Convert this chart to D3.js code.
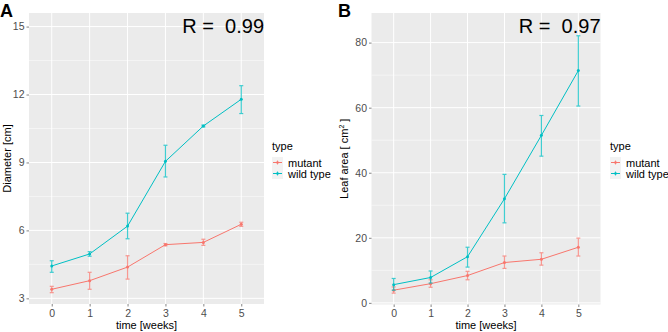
<!DOCTYPE html>
<html>
<head>
<meta charset="utf-8">
<script src="https://cdn.jsdelivr.net/npm/d3@7"></script>
<style>
  body { margin: 0; background: #fff; }
  text { font-family: "Liberation Sans", Arial, sans-serif; }
</style>
</head>
<body>
<script>
// data
var weeks = [0, 1, 2, 3, 4, 5];

var diamMutant   = [3.40, 3.78, 4.38, 5.37, 5.47, 6.27];
var diamMutantLo = [3.25, 3.40, 3.85, 5.32, 5.34, 6.18];
var diamMutantHi = [3.53, 4.15, 4.88, 5.42, 5.61, 6.36];
var diamWild     = [4.43, 4.96, 6.19, 9.05, 10.61, 11.79];
var diamWildLo   = [4.15, 4.86, 5.63, 8.36, 10.57, 11.16];
var diamWildHi   = [4.66, 5.06, 6.76, 9.76, 10.65, 12.39];

var leafMutant   = [3.9, 5.9, 8.4, 12.4, 13.4, 17.1];
var leafMutantLo = [3.0, 4.8, 7.1, 10.6, 11.6, 14.4];
var leafMutantHi = [4.9, 7.1, 9.7, 14.4, 15.4, 19.9];
var leafWild     = [5.6, 7.8, 14.2, 32.0, 51.5, 71.4];
var leafWildLo   = [3.9, 6.1, 11.0, 24.6, 45.1, 60.5];
var leafWildHi   = [7.5, 9.8, 17.1, 39.5, 57.6, 82.1];

var diamTicks = [3, 6, 9, 12, 15];
var leafTicks = [0, 20, 40, 60, 80];
var types = ["mutant", "wild type"];
var colors = ["#F8766D", "#00BFC4"];

var width = 668, height = 332;

var svg = d3.select("body").append("svg")
    .attr("width", width)
    .attr("height", height);

function drawPanel(p) {
    var g = svg.append("g");

    var x = d3.scalePoint()
        .domain(weeks)
        .range([p.left, p.right])
        .padding(0.6);

    var y = d3.scaleLinear()
        .domain(p.yDomain)
        .range([p.bottom, p.top]);

    // grey panel
    g.append("rect")
        .attr("x", p.left).attr("y", p.top)
        .attr("width", p.right - p.left)
        .attr("height", p.bottom - p.top)
        .attr("fill", "#EBEBEB");

    // minor grid
    var minor = [];
    for (var i = 0; i < p.ticks.length - 1; i++) minor.push((p.ticks[i] + p.ticks[i + 1]) / 2);
    g.selectAll(".minor").data(minor).enter().append("line")
        .attr("x1", p.left).attr("x2", p.right)
        .attr("y1", function(d) { return y(d); })
        .attr("y2", function(d) { return y(d); })
        .attr("stroke", "#fff").attr("stroke-width", 0.5);

    // major grid
    g.selectAll(".hmaj").data(p.ticks).enter().append("line")
        .attr("x1", p.left).attr("x2", p.right)
        .attr("y1", function(d) { return y(d); })
        .attr("y2", function(d) { return y(d); })
        .attr("stroke", "#fff").attr("stroke-width", 1);
    g.selectAll(".vmaj").data(weeks).enter().append("line")
        .attr("y1", p.top).attr("y2", p.bottom)
        .attr("x1", function(d) { return x(d); })
        .attr("x2", function(d) { return x(d); })
        .attr("stroke", "#fff").attr("stroke-width", 1);

    // axes
    var yAxis = d3.axisLeft(y).tickValues(p.ticks).tickSize(2.5).tickPadding(2);
    var ya = g.append("g").attr("transform", "translate(" + p.left + ",0)").call(yAxis);
    var xAxis = d3.axisBottom(x).tickSize(2.5).tickPadding(3);
    var xa = g.append("g").attr("transform", "translate(0," + p.bottom + ")").call(xAxis);
    [ya, xa].forEach(function(a) {
        a.select(".domain").remove();
        a.selectAll(".tick line").attr("stroke", "#333").attr("stroke-width", 0.6);
        a.selectAll(".tick text").attr("fill", "#4D4D4D")
            .style("font-size", "10.5px")
            .style("font-family", "'Liberation Sans', Arial, sans-serif");
    });

    // series
    p.series.forEach(function(s, si) {
        var pts = weeks.map(function(w, i) {
            return { w: w, v: s.v[i], lo: s.lo[i], hi: s.hi[i] };
        });
        var col = colors[si];
        var eb = g.append("g").attr("stroke", col).attr("stroke-width", 1.2).attr("opacity", 0.75);
        eb.selectAll(".bar").data(pts).enter().append("line")
            .attr("x1", function(d) { return x(d.w); })
            .attr("x2", function(d) { return x(d.w); })
            .attr("y1", function(d) { return y(d.lo); })
            .attr("y2", function(d) { return y(d.hi); });
        ["lo", "hi"].forEach(function(k) {
            eb.selectAll(".cap" + k).data(pts).enter().append("line")
                .attr("x1", function(d) { return x(d.w) - 2; })
                .attr("x2", function(d) { return x(d.w) + 2; })
                .attr("y1", function(d) { return y(d[k]); })
                .attr("y2", function(d) { return y(d[k]); });
        });
        g.append("path").datum(pts)
            .attr("fill", "none").attr("stroke", col).attr("stroke-width", 1)
            .attr("d", d3.line().x(function(d) { return x(d.w); }).y(function(d) { return y(d.v); }));
        g.selectAll(".pt" + si).data(pts).enter().append("circle")
            .attr("cx", function(d) { return x(d.w); })
            .attr("cy", function(d) { return y(d.v); })
            .attr("r", 1.5).attr("fill", col);
    });

    // R label
    g.append("text")
        .attr("x", p.right).attr("y", p.top + 20)
        .attr("text-anchor", "end")
        .style("font-size", "20px")
        .attr("xml:space", "preserve")
        .text(p.rText);

    // panel letter
    g.append("text")
        .attr("x", p.letterX).attr("y", 16.5)
        .style("font-size", "18px").style("font-weight", "bold")
        .text(p.letter);

    // axis titles
    g.append("text")
        .attr("x", (p.left + p.right) / 2).attr("y", 328.5)
        .attr("text-anchor", "middle")
        .style("font-size", "11px")
        .text("time [weeks]");
    var yt = g.append("text")
        .attr("transform", "translate(" + p.yTitleX + "," + ((p.top + p.bottom) / 2) + ") rotate(-90)")
        .attr("text-anchor", "middle")
        .style("font-size", "11px");
    yt.append("tspan").text(p.yTitle[0]);
    if (p.yTitle.length > 1) {
        yt.append("tspan").attr("dy", -4).style("font-size", "7px").text(p.yTitle[1]);
        yt.append("tspan").attr("dy", 4).text(p.yTitle[2]);
    }

    // legend
    var lg = g.append("g").attr("transform", "translate(" + p.legendX + ",0)");
    lg.append("text").attr("x", 0).attr("y", 150).style("font-size", "11px").text("type");
    types.forEach(function(t, i) {
        var cy = 162.5 + i * 11;
        lg.append("rect").attr("x", 0).attr("y", cy - 5.5).attr("width", 11).attr("height", 11).attr("fill", "#F2F2F2");
        lg.append("line").attr("x1", 1).attr("x2", 10).attr("y1", cy).attr("y2", cy)
            .attr("stroke", colors[i]).attr("stroke-width", 1);
        lg.append("line").attr("x1", 5.5).attr("x2", 5.5).attr("y1", cy - 2).attr("y2", cy + 2)
            .attr("stroke", colors[i]).attr("stroke-width", 1).attr("opacity", 0.75);
        lg.append("circle").attr("cx", 5.5).attr("cy", cy).attr("r", 1.3).attr("fill", colors[i]);
        lg.append("text").attr("x", 16).attr("y", cy + 4).style("font-size", "11px").text(t);
    });
}

drawPanel({
    left: 29, right: 264, top: 13, bottom: 304,
    yDomain: [2.75, 15.6], ticks: diamTicks,
    series: [
        { v: diamMutant, lo: diamMutantLo, hi: diamMutantHi },
        { v: diamWild, lo: diamWildLo, hi: diamWildHi }
    ],
    rText: "R =  0.99", letter: "A", letterX: 0,
    yTitle: ["Diameter [cm]"], yTitleX: 11, legendX: 272
});

drawPanel({
    left: 371.5, right: 600.5, top: 13, bottom: 304.5,
    yDomain: [-0.5, 89.1], ticks: leafTicks,
    series: [
        { v: leafMutant, lo: leafMutantLo, hi: leafMutantHi },
        { v: leafWild, lo: leafWildLo, hi: leafWildHi }
    ],
    rText: "R =  0.97", letter: "B", letterX: 338,
    yTitle: ["Leaf area [ cm", "2", " ]"], yTitleX: 348, legendX: 610
});
</script>
</body>
</html>
